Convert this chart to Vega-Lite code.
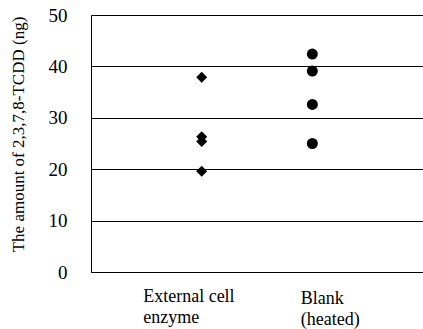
{
  "$schema": "https://vega.github.io/schema/vega-lite/v6.json",
  "width": 332,
  "height": 257,
  "autosize": "none",
  "padding": {"left": 91, "top": 15, "right": 0, "bottom": 57},
  "background": "white",
  "config": {"view": {"stroke": null}, "font": "Liberation Serif"},
  "data": {
    "values": [
      {"group": "External cell enzyme", "x": 1, "y": 37.9},
      {"group": "External cell enzyme", "x": 1, "y": 26.3},
      {"group": "External cell enzyme", "x": 1, "y": 25.4},
      {"group": "External cell enzyme", "x": 1, "y": 19.6},
      {"group": "Blank (heated)", "x": 2, "y": 42.4},
      {"group": "Blank (heated)", "x": 2, "y": 39.1},
      {"group": "Blank (heated)", "x": 2, "y": 32.6},
      {"group": "Blank (heated)", "x": 2, "y": 25.0}
    ]
  },
  "mark": {"type": "point", "filled": true, "size": 121, "opacity": 1, "color": "black"},
  "encoding": {
    "x": {
      "field": "x",
      "type": "quantitative",
      "scale": {"domain": [0, 3], "nice": false, "zero": false},
      "axis": {
        "title": null,
        "values": [1, 2],
        "grid": false,
        "ticks": false,
        "domainColor": "black",
        "domainWidth": 1,
        "labelExpr": "datum.value == 1 ? ['External cell', 'enzyme'] : ['Blank', '(heated)']",
        "labelAlign": "left",
        "labelBaseline": "top",
        "labelOffset": {"condition": {"test": "datum.value == 1", "value": -59}, "value": -12},
        "labelPadding": {"condition": {"test": "datum.value == 1", "value": 15}, "value": 17},
        "labelLineHeight": 21,
        "labelFont": "Liberation Serif",
        "labelFontSize": 18,
        "labelColor": "black",
        "labelFlush": false,
        "labelOverlap": false
      }
    },
    "y": {
      "field": "y",
      "type": "quantitative",
      "scale": {"domain": [0, 50], "nice": false},
      "axis": {
        "title": "The amount of 2,3,7,8-TCDD (ng)",
        "titleFont": "Liberation Serif",
        "titleFontSize": 17,
        "titleFontWeight": "normal",
        "titleColor": "black",
        "titleAngle": 270,
        "titleAlign": "center",
        "titleBaseline": "middle",
        "titleX": -73,
        "titleY": 119,
        "values": [0, 10, 20, 30, 40, 50],
        "grid": true,
        "gridColor": "black",
        "gridWidth": 1,
        "ticks": false,
        "domainColor": "black",
        "domainWidth": 1,
        "labelPadding": 24,
        "labelFont": "Liberation Serif",
        "labelFontSize": 19,
        "labelColor": "black",
        "labelFlush": false
      }
    },
    "shape": {
      "field": "group",
      "type": "nominal",
      "scale": {"domain": ["External cell enzyme", "Blank (heated)"], "range": ["diamond", "circle"]},
      "legend": null
    }
  }
}
